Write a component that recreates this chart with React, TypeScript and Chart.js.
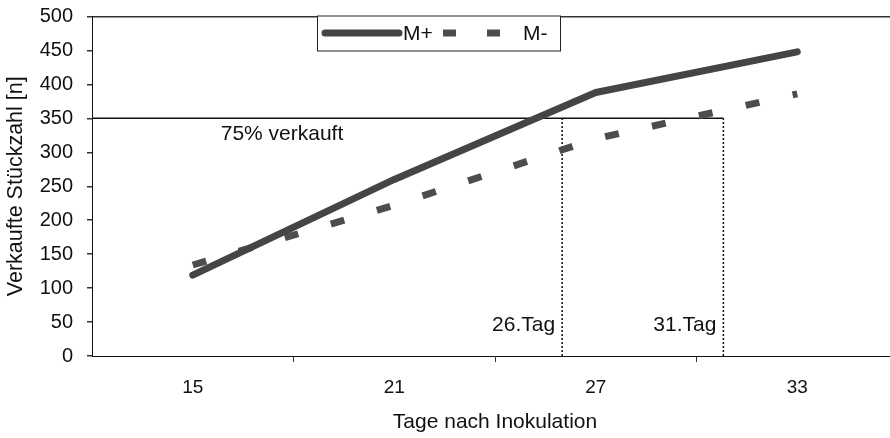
import React, { useEffect, useRef } from "react";
import { Chart, registerables } from "chart.js";

Chart.register(...registerables);

// ---- data ----
const days = [15, 21, 27, 33];
const mPlus = [119, 260, 388, 448];
const mMinus = [134, 222, 320, 386];
const xTickValues = [12, 15, 18, 21, 24, 27, 30, 33, 36];
const xLabelDays = [15, 21, 27, 33];
const yMin = 0;
const yMax = 500;
const yStep = 50;
const threshold = 350;
const thresholdLabel = "75% verkauft";
const markerDays = [26, 30.8];
const markerLabels = ["26.Tag", "31.Tag"];
const seriesLabels = ["M+", "M-"];
const xTitle = "Tage nach Inokulation";
const yTitle = "Verkaufte Stückzahl [n]";

const FONT = "'Liberation Sans', Arial, sans-serif";

const legendPlugin = {
  id: "customLegend",
  afterDraw(chart: any) {
    const ctx = chart.ctx;
    const { left, top } = chart.chartArea;
    const bx = left + 225;
    const by = top - 1;
    const bw = 243;
    const bh = 35;
    const ds = chart.data.datasets;
    ctx.save();
    ctx.fillStyle = "#fff";
    ctx.fillRect(bx, by, bw, bh);
    ctx.strokeStyle = "#222";
    ctx.lineWidth = 1;
    ctx.strokeRect(bx + 0.5, by + 0.5, bw, bh);
    const cy = by + bh / 2;
    // solid sample
    ctx.strokeStyle = ds[0].borderColor;
    ctx.lineWidth = ds[0].borderWidth;
    ctx.lineCap = "round";
    ctx.beginPath();
    ctx.moveTo(bx + 8, cy);
    ctx.lineTo(bx + 82, cy);
    ctx.stroke();
    // dashed sample
    ctx.strokeStyle = ds[1].borderColor;
    ctx.lineWidth = ds[1].borderWidth;
    ctx.lineCap = "butt";
    ctx.setLineDash([13, 31]);
    ctx.beginPath();
    ctx.moveTo(bx + 126, cy);
    ctx.lineTo(bx + 184, cy);
    ctx.stroke();
    ctx.setLineDash([]);
    ctx.fillStyle = "#111";
    ctx.font = `21px ${FONT}`;
    ctx.textBaseline = "middle";
    ctx.textAlign = "left";
    ctx.fillText(ds[0].label, bx + 86, cy + 1);
    ctx.fillText(ds[1].label, bx + 206, cy + 1);
    ctx.restore();
  },
};

const annotationPlugin = {
  id: "annotations",
  afterDatasetsDraw(chart: any) {
    const ctx = chart.ctx;
    const xs = chart.scales.x;
    const ys = chart.scales.y;
    const area = chart.chartArea;
    ctx.save();
    ctx.fillStyle = "#111";
    ctx.font = `21px ${FONT}`;
    ctx.textBaseline = "middle";
    ctx.textAlign = "center";
    ctx.fillText(thresholdLabel, area.left + 190, ys.getPixelForValue(threshold) + 16);
    ctx.textAlign = "right";
    markerDays.forEach((d, i) => {
      ctx.fillText(markerLabels[i], xs.getPixelForValue(d) - 7, area.bottom - 31);
    });
    ctx.restore();
  },
};

export default function App() {
  const canvasRef = useRef<HTMLCanvasElement | null>(null);

  useEffect(() => {
    const canvas = canvasRef.current;
    if (!canvas) return;
    const refLine = (pts: { x: number; y: number }[], dash: number[], width: number) => ({
      label: "",
      data: pts,
      borderColor: "#111",
      borderWidth: width,
      borderDash: dash,
      pointRadius: 0,
      fill: false,
      tension: 0,
    });
    const chart = new Chart(canvas, {
      type: "line",
      data: {
        datasets: [
          {
            label: seriesLabels[0],
            data: days.map((d, i) => ({ x: d, y: mPlus[i] })),
            borderColor: "#454545",
            borderWidth: 7,
            borderCapStyle: "round",
            borderJoinStyle: "round",
            pointRadius: 0,
            fill: false,
            tension: 0,
          },
          {
            label: seriesLabels[1],
            data: days.map((d, i) => ({ x: d, y: mMinus[i] })),
            borderColor: "#4d4d4d",
            borderWidth: 7,
            borderDash: [14, 34],
            borderCapStyle: "butt",
            pointRadius: 0,
            fill: false,
            tension: 0,
          },
          refLine(
            [
              { x: xTickValues[0], y: threshold },
              { x: markerDays[1], y: threshold },
            ],
            [],
            1.5
          ),
          ...markerDays.map((d) =>
            refLine(
              [
                { x: d, y: yMin },
                { x: d, y: threshold },
              ],
              [2, 2],
              1.5
            )
          ),
        ] as any,
      },
      options: {
        animation: false,
        responsive: false,
        layout: { padding: { top: 16.5, right: 13, left: 0, bottom: 0 } },
        plugins: {
          legend: { display: false },
          tooltip: { enabled: false },
        },
        scales: {
          x: {
            type: "linear",
            min: xTickValues[0],
            max: xTickValues[xTickValues.length - 1],
            afterBuildTicks: (s: any) => {
              s.ticks = xTickValues.map((v) => ({ value: v }));
            },
            afterFit: (s: any) => {
              s.height = 82;
              s.paddingLeft = 0;
              s.paddingRight = 0;
            },
            border: { color: "#111", width: 1 },
            grid: {
              color: "transparent",
              drawOnChartArea: false,
              tickLength: 6,
              tickColor: (c: any) =>
                c.tick && c.tick.value % 6 === 0 && c.tick.value !== xTickValues[0] ? "#333" : "transparent",
            },
            ticks: {
              autoSkip: false,
              maxRotation: 0,
              padding: 14,
              color: "#111",
              font: { family: FONT, size: 19 },
              callback: (v: any) => (xLabelDays.includes(Number(v)) ? String(v) : ""),
            },
            title: {
              display: true,
              text: xTitle,
              color: "#111",
              font: { family: FONT, size: 21 },
              padding: { top: 0, bottom: 3 },
            },
          },
          y: {
            min: yMin,
            max: yMax,
            afterFit: (s: any) => {
              s.width = 92;
              s.paddingTop = 0;
              s.paddingBottom = 0;
            },
            border: { color: "#111", width: 1 },
            grid: {
              color: (c: any) => (c.tick && c.tick.value === yMax ? "#333" : "transparent"),
              lineWidth: 1.5,
              tickLength: 5,
              tickColor: "#333",
            },
            ticks: {
              stepSize: yStep,
              padding: 14,
              color: "#111",
              font: { family: FONT, size: 20 },
            },
            title: {
              display: true,
              text: yTitle,
              color: "#111",
              font: { family: FONT, size: 21.5 },
              padding: { top: 3, bottom: 0 },
            },
          },
        },
      } as any,
      plugins: [annotationPlugin, legendPlugin],
    });
    return () => chart.destroy();
  }, []);

  return (
    <div
      style={{
        position: "fixed",
        left: 0,
        top: 0,
        width: 890,
        height: 438,
        overflow: "hidden",
        background: "#fff",
      }}
    >
      <canvas ref={canvasRef} width={911} height={438} style={{ width: 911, height: 438, display: "block" }} />
    </div>
  );
}
